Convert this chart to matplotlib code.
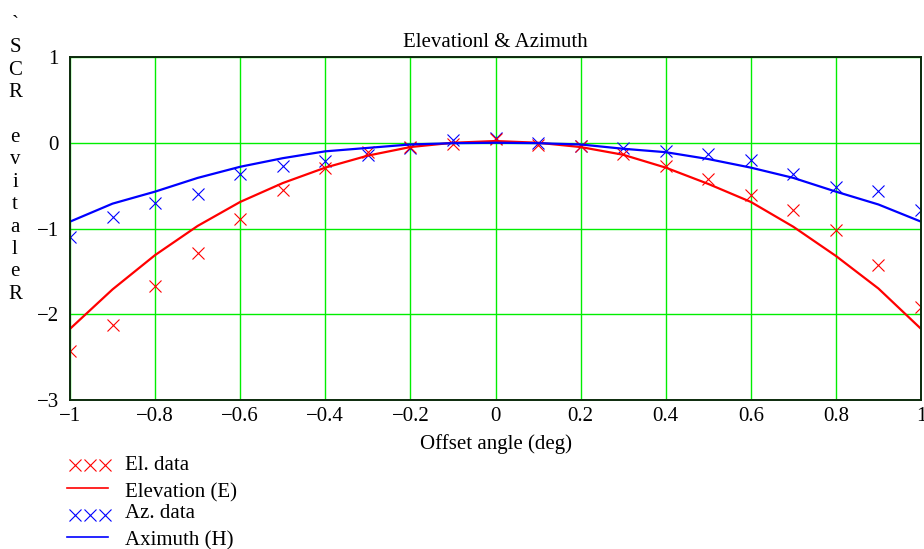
import matplotlib
matplotlib.use('Agg')
import matplotlib.pyplot as plt
from matplotlib.lines import Line2D
import numpy as np

plt.rcParams['font.family'] = ['Liberation Serif', 'DejaVu Serif']

# offset angle (deg)
angle = [-1.0, -0.9, -0.8, -0.7, -0.6, -0.5, -0.4, -0.3, -0.2, -0.1, 0.0,
         0.1, 0.2, 0.3, 0.4, 0.5, 0.6, 0.7, 0.8, 0.9, 1.0]

# fitted patterns
elev_fit = [-2.17, -1.71, -1.31, -0.97, -0.69, -0.47, -0.29, -0.15, -0.05, 0.0, 0.02,
            0.0, -0.05, -0.14, -0.29, -0.48, -0.69, -0.98, -1.32, -1.70, -2.17]
azim_fit = [-0.92, -0.71, -0.57, -0.41, -0.28, -0.18, -0.10, -0.06, -0.02, -0.005, 0.0,
            -0.005, -0.02, -0.07, -0.11, -0.19, -0.29, -0.41, -0.57, -0.72, -0.92]

# measured data
elev_data = [-2.43, -2.12, -1.67, -1.29, -0.89, -0.555, -0.30, -0.11, -0.05, -0.01, 0.04,
             -0.03, -0.04, -0.13, -0.27, -0.42, -0.61, -0.78, -1.02, -1.42, -1.92]
azim_data = [-1.10, -0.87, -0.70, -0.60, -0.37, -0.275, -0.21, -0.14, -0.06, 0.03, 0.05,
             0.0, -0.04, -0.06, -0.10, -0.13, -0.20, -0.36, -0.52, -0.56, -0.79]

xticks = [-1, -0.8, -0.6, -0.4, -0.2, 0, 0.2, 0.4, 0.6, 0.8, 1]
xtick_labels = ['\u22121', '\u22120.8', '\u22120.6', '\u22120.4', '\u22120.2', '0',
                '0.2', '0.4', '0.6', '0.8', '1']
yticks = [-3, -2, -1, 0, 1]
ytick_labels = ['\u22123', '\u22122', '\u22121', '0', '1']

fs = 15

fig = plt.figure(figsize=(9.24, 5.49), dpi=100)
ax = fig.add_axes([70/924, 1-400/549, 851/924, 343/549])

ax.plot(angle, azim_data, 'x', color='#0000ff', markersize=9, markeredgewidth=0.8)
ax.plot(angle, elev_data, 'x', color='#ff0000', markersize=9, markeredgewidth=0.8)
ax.plot(angle, elev_fit, '-', color='#ff0000', linewidth=1.6)
ax.plot(angle, azim_fit, '-', color='#0000ff', linewidth=1.6)

ax.set_xlim(-1, 1)
ax.set_ylim(-3, 1)
ax.set_xticks(xticks)
ax.set_xticklabels(xtick_labels, fontsize=fs)
ax.set_yticks(yticks)
ax.set_yticklabels(ytick_labels, fontsize=fs)
ax.tick_params(length=0, pad=5)
ax.tick_params(axis='y', pad=8)
ax.grid(True, color='#00ee00', linewidth=1.0)
ax.set_axisbelow(True)
for s in ax.spines.values():
    s.set_color('#0c2a0c')
    s.set_linewidth(1.4)

ax.set_title('Elevationl & Azimuth', fontsize=fs, pad=7)
ax.set_xlabel('Offset angle (deg)', fontsize=fs, labelpad=6)

# stacked y label letters
ylab = ['`', 'S', 'C', 'R', '', 'e', 'v', 'i', 't', 'a', 'l', 'e', 'R']
for i, ch in enumerate(ylab):
    fig.text(15/924, 1 - (30 + i*22.4)/549, ch, fontsize=fs, ha='center', va='baseline')

# legend drawn by hand
W, H = 924, 549
def fx(p): return p / W
def fy(p): return 1 - p / H

for yy, col in [(465, '#ff0000'), (515, '#0000ff')]:
    fig.add_artist(Line2D([fx(75), fx(90), fx(105)], [fy(yy)]*3, linestyle='none',
                          marker='x', color=col, markersize=9, markeredgewidth=0.8))
for yy, col in [(488, '#ff0000'), (537, '#0000ff')]:
    fig.add_artist(Line2D([fx(67), fx(108)], [fy(yy)]*2, color=col, linewidth=1.2))

legend_text = [('El. data', 465), ('Elevation (E)', 493), ('Az. data', 514), ('Aximuth (H)', 541)]
for t, yy in legend_text:
    fig.text(fx(125), fy(yy), t, fontsize=fs, ha='left', va='center')

fig.savefig('out.png', dpi=100)
